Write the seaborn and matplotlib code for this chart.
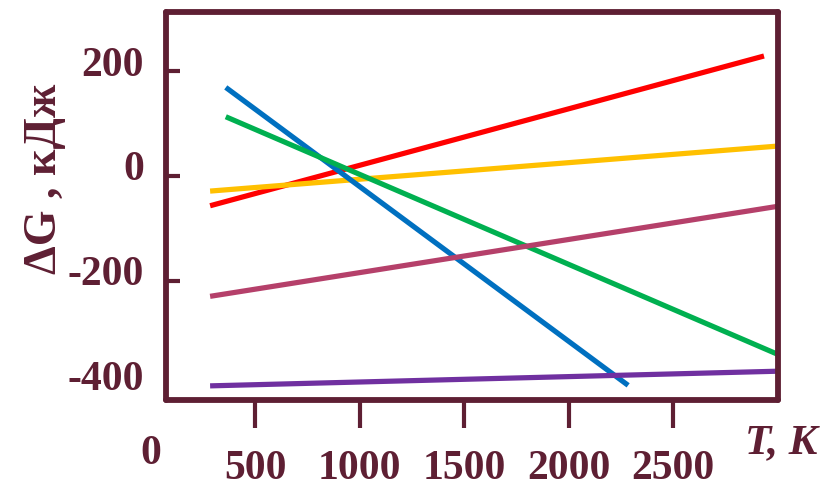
import matplotlib
matplotlib.use("Agg")
import matplotlib.pyplot as plt
import matplotlib.transforms as mtransforms
import seaborn as sns
import pandas as pd

# ---- data ----
reactions = ["1", "2", "3", "4", "5", "6"]
t_begin = [285, 285, 360, 360, 285, 285]
t_end = [2935, 3002, 2285, 3002, 3002, 3002]
g_begin = [-57, -29, 169, 113, -230, -401]
g_end = [229, 57, -400, -341, -58, -373]
line_colors = ["#FF0000", "#FFC000", "#0070C0", "#00B050", "#B5406A", "#7030A0"]

x_ticks = [500, 1000, 1500, 2000, 2500]
y_ticks = [200, 0, -200, -400]

rows = []
for r, t0, t1, g0, g1 in zip(reactions, t_begin, t_end, g_begin, g_end):
    rows.append({"reaction": r, "T": t0, "G": g0})
    rows.append({"reaction": r, "T": t1, "G": g1})
df = pd.DataFrame(rows)

sns.set_style("white")
plt.rcParams["font.family"] = ["Liberation Serif", "DejaVu Serif"]

MAROON = "#5E1F33"

fig = plt.figure(figsize=(8.29, 4.89), dpi=100)
ax = fig.add_axes([166 / 829, 1 - 401 / 489, (778 - 166) / 829, (401 - 12.5) / 489])

sns.lineplot(data=df, x="T", y="G", hue="reaction", hue_order=reactions,
             palette=dict(zip(reactions, line_colors)), estimator=None, sort=False,
             legend=False, linewidth=3.75, ax=ax)
for ln in ax.lines:
    ln.set_solid_capstyle("butt")

ax.set_xlim(74, 3002)
ax.set_ylim(-428, 314)

for s in ax.spines.values():
    s.set_visible(True)
    s.set_color(MAROON)
    s.set_linewidth(4.2)
    s.set_capstyle("round")
    s.set_joinstyle("round")

ax.set_xticks(x_ticks)
ax.set_xticklabels([str(v) for v in x_ticks])
ax.set_yticks(y_ticks)
ax.set_yticklabels([str(v) for v in y_ticks])

ax.tick_params(axis="x", direction="out", length=20, width=3, color=MAROON,
               pad=15, labelsize=30, labelcolor=MAROON, bottom=True)
ax.tick_params(axis="y", direction="in", length=10, width=3, color=MAROON,
               pad=16, labelsize=30, labelcolor=MAROON, left=True)
for lab in ax.get_xticklabels() + ax.get_yticklabels():
    lab.set_fontweight("bold")
# the -400 value has no tick mark in the reference
ax.yaxis.get_major_ticks()[-1].tick1line.set_visible(False)
# y tick labels sit slightly above their ticks
offset = mtransforms.ScaledTranslation(0, 8 / 72, fig.dpi_scale_trans)
for lab in ax.get_yticklabels():
    lab.set_transform(lab.get_transform() + offset)

ax.set_xlabel("")
ax.set_ylabel("")

# origin label "0" at T = 0, below the axes
blend = mtransforms.blended_transform_factory(ax.transData, fig.transFigure)
ax.text(0, 1 - 454 / 489, "0", transform=blend, ha="center", va="center",
        fontsize=30, fontweight="bold", color=MAROON, clip_on=False)

fig.text(781 / 829, 1 - 443 / 489, "T, K", ha="center", va="center",
         fontsize=31, fontweight="bold", fontstyle="italic", color=MAROON)
fig.text(45 / 829, 1 - 179 / 489, "ΔG , кДж", rotation=90, ha="center", va="center",
         fontsize=33, fontweight="bold", color=MAROON)

fig.savefig("out.png", dpi=100)
